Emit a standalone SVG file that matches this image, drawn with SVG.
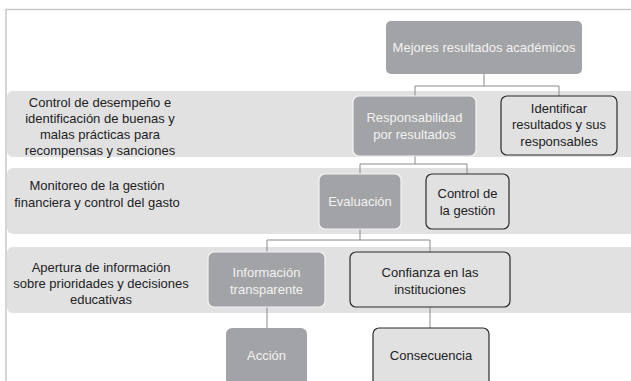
<svg xmlns="http://www.w3.org/2000/svg" width="631" height="381" viewBox="0 0 631 381">
<style>
.band{fill:#e1e1e2}
.dark{fill:#a2a3a6;stroke:#f4f4f4;stroke-width:1.2}
.light{fill:#e1e1e2;stroke:#2b2b2b;stroke-width:1.2}
.t{font-family:"Liberation Sans",Arial,sans-serif;font-size:13px;text-anchor:middle}
.tw{fill:#f2f2f2}
.tb{fill:#222}
.conn{fill:none;stroke:#8a8a8a;stroke-width:1}
</style>
<rect width="631" height="381" fill="#fff"/>
<path d="M6,381 V9.5 H631" fill="none" stroke="#c8c8c8" stroke-width="1.5"/>
<g id="bands">
<rect class="band" x="7" y="91" width="640" height="66" rx="6"/>
<rect class="band" x="7" y="168" width="640" height="66" rx="6"/>
<rect class="band" x="7" y="247" width="640" height="66" rx="6"/>
</g>
<g id="band-labels">
<text class="t tb" x="100" y="107">Control de desempeño e</text>
<text class="t tb" x="100" y="123">identificación de buenas y</text>
<text class="t tb" x="100" y="139">malas prácticas para</text>
<text class="t tb" x="100" y="155">recompensas y sanciones</text>
<text class="t tb" x="97" y="190">Monitoreo de la gestión</text>
<text class="t tb" x="97" y="207">financiera y control del gasto</text>
<text class="t tb" x="101" y="272">Apertura de información</text>
<text class="t tb" x="101" y="288">sobre prioridades y decisiones</text>
<text class="t tb" x="101" y="304">educativas</text>
</g>
<g id="connectors">
<path class="conn" d="M484,74 V86 M415,96 V86 H559 V96"/>
<path class="conn" d="M415,156 V164 M360,174 V164 H467 V174"/>
<path class="conn" d="M360,229 V240 M267,252 V240 H430 V252"/>
<path class="conn" d="M267,307 V328"/>
<path class="conn" d="M430,307 V328"/>
</g>
<g id="mejores">
<rect x="386" y="21" width="196" height="53" rx="5" fill="#a2a3a6"/>
<text class="t tw" x="484" y="52">Mejores resultados académicos</text>
</g>
<g id="responsabilidad">
<rect class="dark" x="353" y="96" width="123" height="60" rx="6"/>
<text class="t tw" x="414.5" y="122">Responsabilidad</text>
<text class="t tw" x="414.5" y="139">por resultados</text>
</g>
<g id="identificar">
<rect class="light" x="501" y="96" width="116" height="59" rx="6"/>
<text class="t tb" x="559" y="113">Identificar</text>
<text class="t tb" x="559" y="129">resultados y sus</text>
<text class="t tb" x="559" y="146">responsables</text>
</g>
<g id="evaluacion">
<rect class="dark" x="319" y="174" width="82" height="55" rx="6"/>
<text class="t tw" x="360" y="206">Evaluación</text>
</g>
<g id="control-gestion">
<rect class="light" x="426" y="174" width="83" height="55" rx="6"/>
<text class="t tb" x="467.5" y="198">Control de</text>
<text class="t tb" x="467.5" y="215">la gestión</text>
</g>
<g id="informacion">
<rect class="dark" x="208" y="252" width="117" height="55" rx="6"/>
<text class="t tw" x="266.5" y="277">Información</text>
<text class="t tw" x="266.5" y="294">transparente</text>
</g>
<g id="confianza">
<rect class="light" x="350" y="252" width="160" height="55" rx="6"/>
<text class="t tb" x="430" y="277">Confianza en las</text>
<text class="t tb" x="430" y="294">instituciones</text>
</g>
<g id="accion">
<rect x="226" y="328" width="81" height="60" rx="6" fill="#a2a3a6"/>
<text class="t tw" x="266.5" y="360">Acción</text>
</g>
<g id="consecuencia">
<rect class="light" x="373" y="328" width="116" height="60" rx="6"/>
<text class="t tb" x="431" y="360">Consecuencia</text>
</g>
</svg>
